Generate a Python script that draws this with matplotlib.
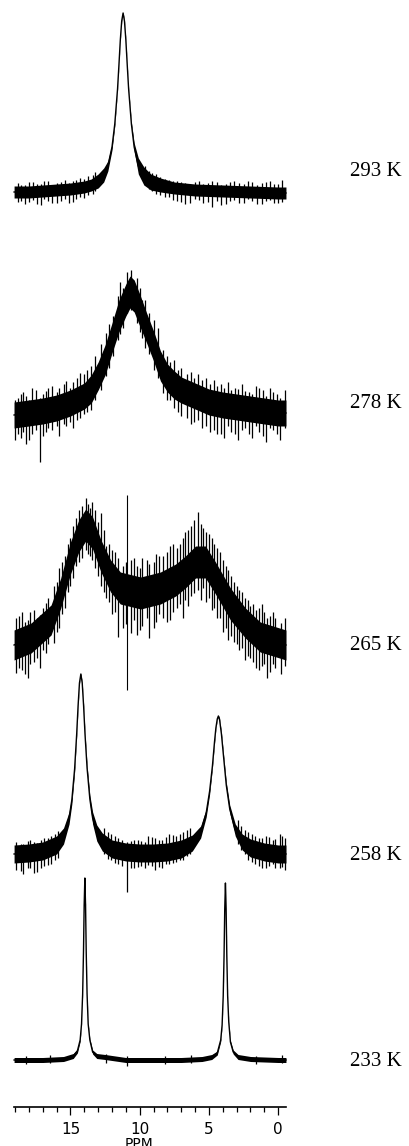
import matplotlib
matplotlib.use("Agg")
import matplotlib.pyplot as plt
from matplotlib.ticker import FixedLocator, NullFormatter

# ---------------- data ----------------
temps = ["293 K", "278 K", "265 K", "258 K", "233 K"]

# 293 K
ppm_293 = [19.07, 18, 17, 16, 15, 14, 13.5, 13, 12.6, 12.3, 12.0, 11.8, 11.6, 11.5, 11.4, 11.3, 11.2,
           11.1, 11.0, 10.9, 10.8, 10.6, 10.4, 10.1, 9.7, 9.2, 8.5, 7.5, 6, 4, 2, 0, -0.56]
int_293 = [1, 1, 2, 3, 4, 6, 8, 12, 18, 27, 46, 69, 104, 128, 153, 172, 180,
           172, 153, 128, 104, 69, 46, 27, 17, 11, 8, 5, 3, 2, 1, 0, 0]
noise_293 = [6, 6, 6, 6, 6, 6, 6, 7, 7, 5, 3, 2, 1, 1, 1, 1, 1,
             1, 1, 1, 1, 2, 4, 8, 9, 8, 7, 6, 6, 6, 6, 6, 6]
spk_293_ppm = [18.8, 18.3, 17.7, 17.1, 16.6, 16.0, 15.4, 14.8, 14.3, 13.7, 13.2, 9.6, 9.1, 8.5, 7.9,
               7.3, 6.7, 6.0, 5.4, 4.8, 4.1, 3.5, 2.8, 2.2, 1.5, 0.9, 0.3, -0.3,
               18.6, 18.0, 17.4, 16.9, 16.3, 15.7, 15.1, 14.6, 14.0, 13.4, 9.3, 8.8, 8.2,
               7.6, 7.0, 6.4, 5.7, 5.1, 4.4, 3.8, 3.2, 2.5, 1.9, 1.2, 0.6, 0.0]
spk_293_top = [10, 8, 11, 9, 12, 10, 13, 12, 15, 17, 21, 27, 20, 16, 13,
               12, 10, 11, 9, 12, 8, 11, 10, 12, 8, 11, 9, 13,
               8, 11, 9, 12, 8, 11, 10, 13, 14, 18, 22, 19, 14,
               12, 11, 9, 12, 10, 11, 9, 12, 9, 11, 10, 12, 9]
spk_293_bot = [-9, -11, -7, -12, -8, -10, -6, -9, -4, -2, 2, 8, 2, -2, -4,
               -8, -11, -6, -10, -14, -12, -8, -10, -6, -11, -8, -10, -9,
               -8, -9, -11, -6, -10, -8, -10, -6, -5, -1, 4, -1, -4,
               -7, -9, -10, -7, -9, -8, -11, -7, -10, -8, -11, -7, -10]

# 278 K
ppm_278 = [19.07, 18, 17, 16, 15, 14, 13.5, 13, 12.5, 12, 11.5, 11, 10.7, 10.4, 10, 9.5, 9, 8.5,
           8, 7.5, 7, 6, 5, 4, 3, 2, 1, 0, -0.56]
int_278 = [3, 5, 7, 10, 15, 22, 29, 42, 58, 80, 102, 118, 126, 122, 108, 90, 72, 52,
           40, 33, 28, 22, 16, 13, 11, 9, 7, 5, 5]
noise_278 = [13, 13, 13, 13, 13, 13, 14, 14, 15, 15, 16, 16, 16, 16, 16, 15, 15, 15,
             14, 14, 13, 13, 13, 13, 13, 13, 13, 13, 13]
spk_278_ppm = [19.0, 18.6, 18.2, 17.8, 17.2, 16.8, 16.3, 15.8, 15.3, 14.8, 14.3, 13.8, 13.2, 12.4,
               11.9, 11.2, 10.9, 10.6, 10.2, 9.8, 9.3, 8.7, 8.3, 7.8, 7.2, 6.6, 6.1, 5.5, 4.9,
               4.4, 3.9, 3.4, 2.9, 2.4, 1.9, 1.4, 0.9, 0.4, -0.1, -0.5,
               18.8, 18.4, 18.0, 17.5, 17.0, 16.6, 16.0, 15.5, 15.0, 14.5, 14.0, 13.5, 12.8,
               12.2, 11.6, 11.4, 10.0, 9.6, 9.0, 8.0, 7.5, 7.0, 6.3, 5.8, 5.2, 4.6, 4.1, 3.6,
               3.1, 2.6, 2.1, 1.6, 1.1, 0.6, 0.1]
spk_278_top = [18, 24, 22, 30, 20, 27, 32, 30, 37, 36, 45, 48, 62, 85,
               102, 130, 146, 148, 140, 118, 105, 90, 68, 56, 48, 44, 40, 38, 34,
               32, 30, 28, 29, 27, 24, 30, 22, 26, 20, 28,
               20, 26, 18, 28, 24, 30, 26, 34, 30, 40, 44, 52, 74,
               94, 122, 136, 130, 118, 98, 62, 58, 50, 46, 44, 40, 38, 34, 36,
               30, 34, 26, 32, 28, 30, 24]
spk_278_bot = [-22, -20, -26, -16, -44, -14, -12, -18, -8, -10, 0, 6, 18, 42,
               62, 90, 105, 108, 95, 80, 64, 40, 25, 18, 6, 0, -4, -10, -14,
               -16, -20, -14, -22, -10, -20, -14, -24, -12, -22, -10,
               -16, -14, -22, -12, -18, -10, -8, -6, -4, -2, 4, 8, 28,
               50, 78, 84, 86, 70, 48, 18, 10, 2, -6, -2, -8, -12, -16, -8,
               -16, -12, -16, -8, -18, -10, -16]

# 265 K
ppm_265 = [19.07, 17.84, 16.4, 15.7, 15.0, 14.4, 13.9, 13.4, 12.8, 12.1, 11.4, 9.93, 8.5, 7.4,
           6.7, 5.97, 5.25, 4.53, 3.45, 2.37, 1.3, -0.56]
int_265 = [3, 10, 28, 55, 90, 112, 123, 115, 92, 72, 60, 55, 60, 68, 76, 86, 86, 70, 44, 25, 11, 3]
noise_265 = [15, 15, 15, 15, 16, 16, 16, 16, 16, 16, 16, 16, 16, 16, 16, 16, 16, 16, 16, 15, 15, 15]
spk_265_ppm = [18.9, 18.5, 18.1, 17.6, 17.2, 16.8, 16.2, 15.8, 15.4, 15.0, 14.6, 14.2, 13.9, 13.6,
               13.2, 12.8, 12.4, 12.0, 11.6, 11.2, 10.6, 10.2, 9.8, 9.3, 8.8, 8.3, 7.8, 7.3, 6.9,
               6.5, 6.1, 5.6, 5.2, 4.8, 4.4, 4.0, 3.6, 3.2, 2.8, 2.4, 2.0, 1.6, 1.2, 0.8, 0.4,
               -0.2, -0.5,
               18.7, 18.3, 17.9, 17.4, 17.0, 16.6, 16.0, 15.6, 15.2, 14.8, 14.4, 13.75, 13.45,
               13.0, 12.6, 12.2, 11.8, 11.0, 10.4, 10.0, 9.5, 9.0, 8.6, 8.0, 7.6, 7.1, 6.7, 6.3,
               5.8, 5.4, 5.0, 4.6, 4.2, 3.8, 3.4, 3.0, 2.6, 2.2, 1.8, 1.4, 1.0, 0.6, 0.2]
spk_265_top = [30, 36, 28, 38, 33, 45, 62, 80, 92, 110, 130, 142, 150, 140,
               138, 135, 102, 98, 90, 82, 88, 82, 90, 84, 94, 92, 102, 100, 110,
               118, 128, 124, 116, 110, 100, 88, 78, 66, 58, 50, 42, 38, 44, 30, 36,
               25, 30,
               32, 26, 36, 30, 40, 50, 66, 86, 104, 122, 138, 144, 146,
               126, 118, 104, 96, 86, 90, 80, 88, 86, 92, 96, 104, 104, 116, 122,
               136, 120, 114, 104, 96, 82, 72, 62, 56, 48, 44, 40, 36, 32, 30]
spk_265_bot = [-25, -22, -30, -14, -20, -5, 5, 20, 40, 62, 82, 90, 98, 92,
               80, 62, 50, 34, 11, 20, 15, 13, 22, 10, 26, 30, 28, 40, 30,
               42, 55, 48, 46, 38, 30, 16, 8, 6, -2, -12, -10, -20, -18, -30, -16,
               -26, -18,
               -20, -26, -16, -10, -2, 4, 16, 34, 56, 70, 86, 94, 88,
               72, 56, 46, 36, 24, 28, 18, 30, 20, 34, 26, 36, 44, 48, 52,
               58, 60, 50, 40, 30, 20, 12, 4, 0, -8, -14, -22, -16, -24, -20]
# single sharp line crossing the 265 K trace
line_ppm = 10.9
line_top_265 = 153
line_bot_265 = -42

# 258 K
ppm_258 = [19.07, 18, 17, 16, 15.5, 15.1, 14.9, 14.7, 14.55, 14.45, 14.35, 14.25, 14.15, 14.05,
           13.95, 13.8, 13.6, 13.4, 13.1, 12.7, 12, 11, 10, 9, 8, 7, 6.2, 5.6, 5.2, 4.95, 4.75,
           4.6, 4.5, 4.4, 4.32, 4.24, 4.1, 3.95, 3.75, 3.5, 3.1, 2.6, 2, 1, 0, -0.56]
int_258 = [2, 3, 5, 11, 20, 38, 56, 87, 122, 150, 173, 182, 173, 150,
           122, 88, 57, 38, 23, 14, 7, 4, 3, 3, 4, 7, 13, 24, 43, 65, 90,
           114, 128, 137, 140, 137, 122, 100, 71, 47, 26, 14, 8, 4, 2, 2]
noise_258 = [9, 9, 9, 9, 8, 6, 4, 3, 2, 2, 1, 1, 1, 2,
             2, 3, 4, 6, 8, 9, 9, 9, 9, 9, 9, 9, 8, 6, 4, 3, 2,
             2, 1, 1, 1, 1, 2, 2, 3, 4, 6, 8, 9, 9, 9, 9]
spk_258_ppm = [18.9, 18.4, 17.9, 17.4, 16.9, 16.4, 15.9, 12.6, 12.1, 11.6, 10.9, 10.4, 9.9, 9.4,
               8.9, 8.4, 7.9, 7.4, 6.9, 6.4, 2.9, 2.4, 1.9, 1.4, 0.9, 0.4, -0.1, -0.5,
               18.6, 18.1, 17.6, 17.1, 16.6, 16.1, 12.3, 11.8, 11.3, 10.6, 10.1, 9.6, 9.1,
               8.6, 8.1, 7.6, 7.1, 6.6, 2.7, 2.2, 1.7, 1.2, 0.7, 0.2, -0.3]
spk_258_top = [14, 12, 16, 13, 18, 20, 25, 28, 22, 18, 14, 16, 15, 20,
               18, 16, 22, 20, 24, 28, 36, 26, 22, 18, 20, 16, 22, 18,
               12, 15, 14, 16, 18, 22, 24, 20, 16, 15, 16, 14, 19,
               16, 19, 21, 22, 26, 30, 24, 20, 18, 19, 17, 20]
spk_258_bot = [-14, -18, -12, -16, -10, -8, -2, 2, -4, -8, -36, -12, -10, -9,
               -14, -12, -8, -6, -4, 2, 12, 2, -6, -10, -12, -8, -12, -14,
               -15, -12, -17, -12, -9, -4, -3, -7, -10, -12, -11, -12, -10,
               -11, -8, -7, -4, 0, 6, -4, -8, -12, -10, -12, -11]

# 233 K
ppm_233 = [19.07, 17, 15.5, 14.8, 14.5, 14.3, 14.2, 14.12, 14.06, 14.01, 13.96, 13.91, 13.86, 13.8,
           13.72, 13.6, 13.4, 13.1, 12.5, 11, 9, 7, 5.5, 4.8, 4.4, 4.15, 4.05, 3.97, 3.91, 3.86,
           3.81, 3.76, 3.71, 3.65, 3.57, 3.45, 3.25, 2.9, 2, 0, -0.56]
int_233 = [0, 0, 1, 4, 9, 20, 36, 66, 107, 155, 182, 155, 107, 66,
           36, 20, 8, 4, 3, 0, 0, 0, 1, 3, 7, 20, 35, 64, 104, 151,
           177, 151, 104, 64, 38, 18, 8, 3, 1, 0, 0]
noise_233 = [2.5, 2.5, 2.5, 2.5, 2, 1.5, 1, 1, 1, 1, 1, 1, 1, 1,
             1, 1.5, 2, 2.5, 2.5, 2.5, 2.5, 2.5, 2.5, 2.5, 2, 1.5, 1, 1, 1, 1,
             1, 1, 1, 1, 1, 1.5, 2, 2.5, 2.5, 2.5, 2.5]
spk_233_ppm = [18.2, 16.5, 12.4, 10.9, 8.2, 6.3, 1.6, -0.3]
spk_233_top = [4, 5, 6, 4, 4, 5, 4, 5]
spk_233_bot = [-4, -3, -3, -6, -4, -3, -4, -3]

axis_major = [0, 5, 10, 15]
axis_minor = [1, 2, 3, 4, 6, 7, 8, 9, 11, 12, 13, 14, 16, 17, 18, 19]

# ---------------- layout ----------------
W, H = 410, 1146
PX_PER_PPM = 13.85
X0 = 278.2                      # pixel of 0 ppm
XL = X0 / PX_PER_PPM            # ppm at left edge
XR = -(W - X0) / PX_PER_PPM     # ppm at right edge
baselines = [193, 418, 648, 856, 1060]
label_y = [171, 403, 646, 855, 1061]
label_x = 350
axis_y = 1107

fig = plt.figure(figsize=(W / 100, H / 100), dpi=100)
ax = fig.add_axes([0, 0, 1, 1])
ax.set_xlim(XL, XR)
ax.set_ylim(H, 0)
ax.axis("off")

spectra = [
    (ppm_293, int_293, noise_293, spk_293_ppm, spk_293_top, spk_293_bot),
    (ppm_278, int_278, noise_278, spk_278_ppm, spk_278_top, spk_278_bot),
    (ppm_265, int_265, noise_265, spk_265_ppm, spk_265_top, spk_265_bot),
    (ppm_258, int_258, noise_258, spk_258_ppm, spk_258_top, spk_258_bot),
    (ppm_233, int_233, noise_233, spk_233_ppm, spk_233_top, spk_233_bot),
]

for (p, iv, nz, sp, st, sb), base in zip(spectra, baselines):
    upper = [base - (v + n) for v, n in zip(iv, nz)]
    lower = [base - (v - n) for v, n in zip(iv, nz)]
    ax.fill_between(p, upper, lower, color="black", lw=0, zorder=2)
    ax.plot(p, [base - v for v in iv], color="black", lw=1.0, zorder=3)
    ax.vlines(sp, [base - t for t in st], [base - b for b in sb],
              color="black", lw=0.9, zorder=3)

# sharp single line in the 265 K trace
ax.vlines([line_ppm], [baselines[2] - line_top_265], [baselines[2] - line_bot_265],
          color="black", lw=0.8, zorder=3)

for t, y in zip(temps, label_y):
    fig.text(label_x / W, 1 - y / H, t, ha="left", va="center",
             family="Liberation Serif", fontsize=15, color="black")

# ---------------- ppm scale ----------------
ax2 = fig.add_axes([0, 1 - axis_y / H, 1, 0.0005])
ax2.set_xlim(XL, XR)
ax2.patch.set_visible(False)
for s in ("top", "left", "right"):
    ax2.spines[s].set_visible(False)
ax2.spines["bottom"].set_bounds(19.07, -0.56)
ax2.spines["bottom"].set_linewidth(1.2)
ax2.set_yticks([])
ax2.xaxis.set_major_locator(FixedLocator(axis_major))
ax2.xaxis.set_minor_locator(FixedLocator(axis_minor))
ax2.xaxis.set_minor_formatter(NullFormatter())
ax2.tick_params(axis="x", which="major", direction="out", length=6, width=0.9,
                pad=5, labelsize=11)
ax2.tick_params(axis="x", which="minor", direction="out", length=3.6, width=0.9)
ax2.set_xticklabels([str(v) for v in axis_major], family="DejaVu Sans")

fig.text(139 / W, 1 - 1144 / H, "PPM", ha="center", va="center",
         family="DejaVu Sans", fontsize=10)

fig.savefig("out.png", dpi=100)
